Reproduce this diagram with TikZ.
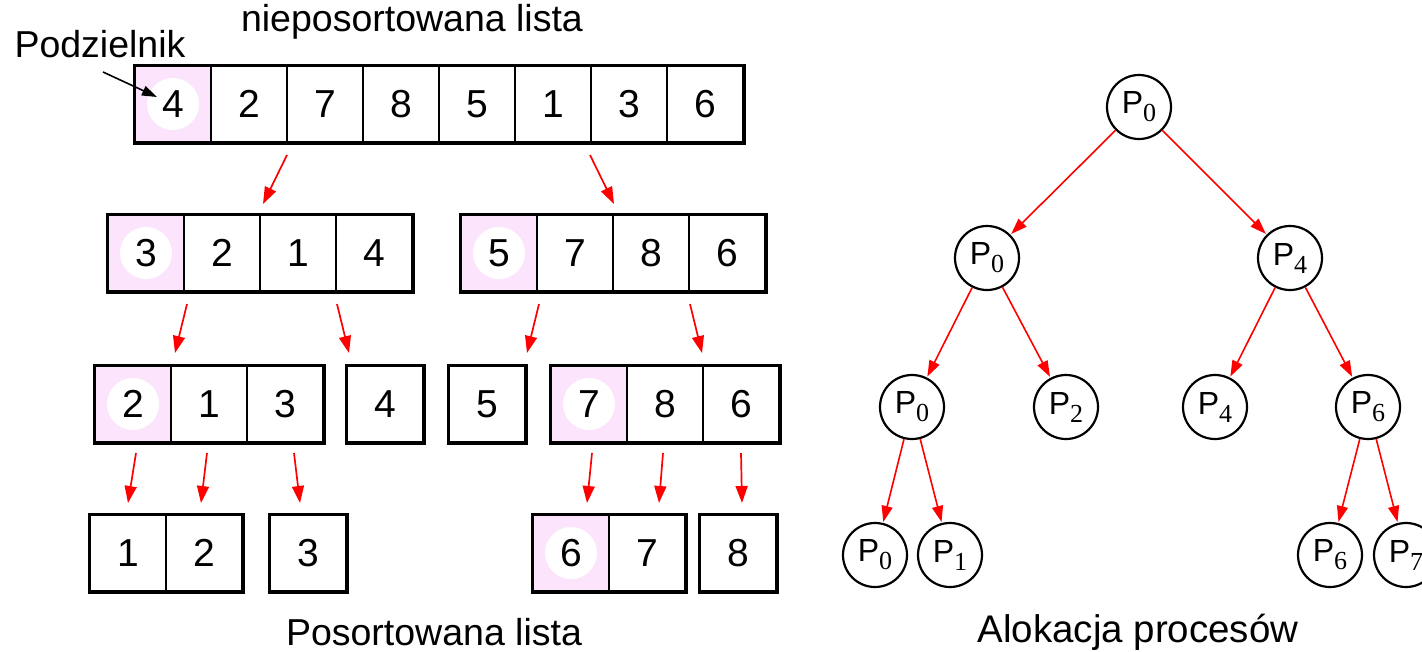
\documentclass[tikz,border=0pt]{standalone}
\usepackage{fontspec}
\setmainfont{Liberation Sans}
\newfontfamily\subfont{Liberation Serif}
\usetikzlibrary{arrows.meta,calc}

\definecolor{pivotpink}{RGB}{252,228,252}
\definecolor{linkred}{RGB}{255,0,0}

% cell width of the list boxes
\def\cw{76}

% one list: name prefix, left x, top y, number of cells, values
\newcommand{\qlist}[5]{%
  \foreach \v [count=\i] in {#5} {
    \node[cell] (#1\i) at ({#2+(\i-0.5)*\cw},{#3+\cw/2}) {\v};
  }
  \draw[frame] (#11.north west) rectangle (#1#4.south east);
}
% shaded background of the pivot cell
\newcommand{\pivotbg}[2]{%
  \fill[pivotpink] (#1,#2) rectangle ++(\cw,\cw);
  \fill[white] ({#1+\cw/2},{#2+\cw/2}) circle[radius=26pt];
}
% process label with a serif subscript
\newcommand{\proc}[1]{P\raisebox{-8pt}{\subfont\fontsize{26}{26}\selectfont #1}}

\begin{document}
\begin{tikzpicture}[x=1pt,y=-1pt,
  cell/.style={draw, line width=1.5pt, minimum width=\cw, minimum height=\cw,
    inner sep=0pt, font=\fontsize{39}{39}\selectfont},
  frame/.style={draw, line width=3.5pt},
  lbl/.style={inner sep=0pt, font=\fontsize{37.5}{40}\selectfont},
  qarrow/.style={draw=linkred, line width=1.7pt,
    -{Triangle[length=17pt,width=12pt]}},
  tnode/.style={circle, draw, line width=2.2pt, minimum size=64pt, inner sep=0pt,
    font=\fontsize{32}{32}\selectfont},
  tedge/.style={draw=linkred, line width=1.6pt, shorten >=1pt,
    -{Triangle[length=16pt,width=11pt]}}
]
\useasboundingbox (0,0) rectangle (1422,651);
\clip (0,0) rectangle (1422,651);

% ---------- quicksort lists ----------
\pivotbg{135}{66}
\qlist{top}{135}{66}{8}{4,2,7,8,5,1,3,6}

\pivotbg{108}{215}
\qlist{ra}{108}{215}{4}{3,2,1,4}
\pivotbg{461}{215}
\qlist{rb}{461}{215}{4}{5,7,8,6}

\pivotbg{95}{366}
\qlist{sa}{95}{366}{3}{2,1,3}
\qlist{sb}{347}{366}{1}{4}
\qlist{sc}{449}{366}{1}{5}
\pivotbg{551}{366}
\qlist{sd}{551}{366}{3}{7,8,6}

\qlist{ua}{90}{515}{2}{1,2}
\qlist{ub}{270}{515}{1}{3}
\pivotbg{533}{515}
\qlist{uc}{533}{515}{2}{6,7}
\qlist{ud}{700}{515}{1}{8}

% ---------- split arrows ----------
\coordinate (a1s) at (287,155); \coordinate (a1e) at (263,204);
\coordinate (a2s) at (590,155); \coordinate (a2e) at (614,204);
\coordinate (b1s) at (187,304); \coordinate (b1e) at (175,353);
\coordinate (b2s) at (337,304); \coordinate (b2e) at (349,353);
\coordinate (b3s) at (539,304); \coordinate (b3e) at (527,353);
\coordinate (b4s) at (690,304); \coordinate (b4e) at (702,353);
\coordinate (c1s) at (136,453); \coordinate (c1e) at (128,503);
\coordinate (c2s) at (207,453); \coordinate (c2e) at (201,503);
\coordinate (c3s) at (294,453); \coordinate (c3e) at (300,503);
\coordinate (c4s) at (592,453); \coordinate (c4e) at (587,503);
\coordinate (c5s) at (663,453); \coordinate (c5e) at (659,503);
\coordinate (c6s) at (741,453); \coordinate (c6e) at (742,503);
\foreach \p in {a1,a2,b1,b2,b3,b4,c1,c2,c3,c4,c5,c6}
  \draw[qarrow] (\p s) -- (\p e);

% ---------- labels ----------
\node[lbl] (title) at (412,22) {nieposortowana lista};
\node[lbl] (pivotlbl) at (100,44) {Podzielnik};
\coordinate (pivtail) at (103,72);
\draw[line width=1.6pt, -{Triangle[length=15pt,width=10pt]}] (pivtail) -- (157,97);
\node[lbl] (sorted) at (434,632) {Posortowana lista};
\node[lbl, font=\fontsize{38.5}{40}\selectfont] (alloc) at (1138,632) {Alokacja procesów};

% ---------- process tree ----------
\node[tnode] (t1)  at (1139,107) {\proc{0}};
\node[tnode] (t2a) at (987,258)  {\proc{0}};
\node[tnode] (t2b) at (1290,258) {\proc{4}};
\node[tnode] (t3a) at (912,407)  {\proc{0}};
\node[tnode] (t3b) at (1066,407) {\proc{2}};
\node[tnode] (t3c) at (1215,407) {\proc{4}};
\node[tnode] (t3d) at (1368,407) {\proc{6}};
\node[tnode] (t4a) at (875,555)  {\proc{0}};
\node[tnode] (t4b) at (950,555)  {\proc{1}};
\node[tnode] (t4c) at (1330,555) {\proc{6}};
\node[tnode] (t4d) at (1406,555) {\proc{7}};

\foreach \a/\b in {t1/t2a,t1/t2b,t2a/t3a,t2a/t3b,t2b/t3c,t2b/t3d,
                   t3a/t4a,t3a/t4b,t3d/t4c,t3d/t4d}
  \draw[tedge] (\a) -- (\b);
\end{tikzpicture}
\end{document}
